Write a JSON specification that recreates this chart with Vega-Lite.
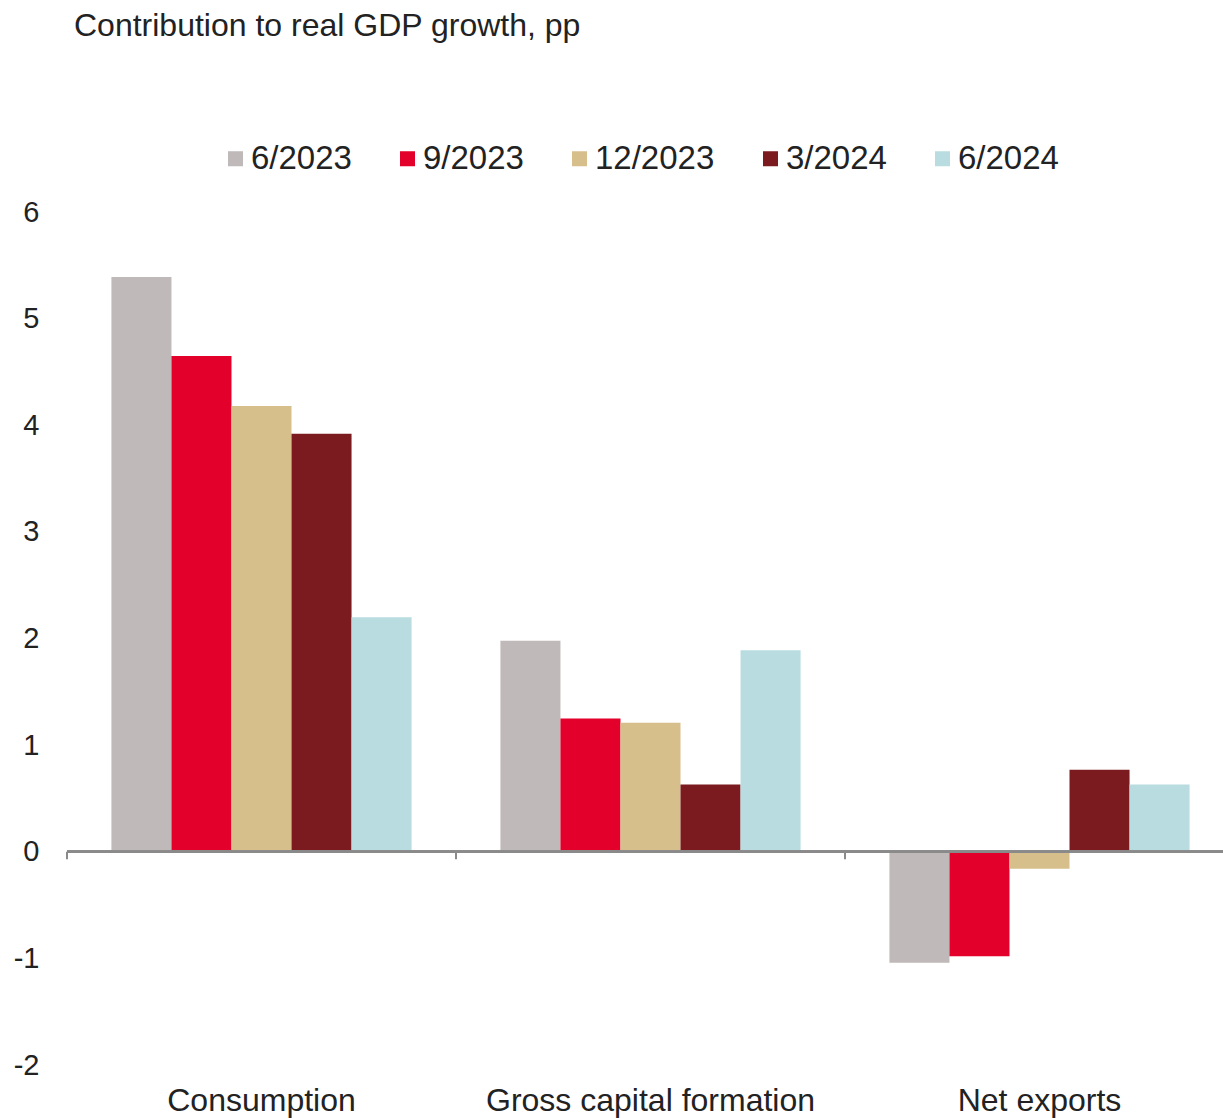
{
  "$schema": "https://vega.github.io/schema/vega-lite/v6.json",
  "width": 1167,
  "height": 853,
  "autosize": {"type": "none"},
  "padding": {"left": 67, "top": 212, "right": 0, "bottom": 53},
  "background": "white",
  "title": {
    "text": "Contribution to real GDP growth, pp",
    "anchor": "start",
    "frame": "group",
    "fontSize": 32,
    "fontWeight": "normal",
    "font": "Liberation Sans",
    "color": "#222222",
    "dx": 7,
    "offset": 99
  },
  "config": {
    "view": {"stroke": null},
    "font": "Liberation Sans"
  },
  "data": {
    "values": [
      {"category": "Consumption", "period": "6/2023", "value": 5.39},
      {"category": "Consumption", "period": "9/2023", "value": 4.65},
      {"category": "Consumption", "period": "12/2023", "value": 4.18},
      {"category": "Consumption", "period": "3/2024", "value": 3.92},
      {"category": "Consumption", "period": "6/2024", "value": 2.2},
      {"category": "Gross capital formation", "period": "6/2023", "value": 1.98},
      {"category": "Gross capital formation", "period": "9/2023", "value": 1.25},
      {"category": "Gross capital formation", "period": "12/2023", "value": 1.21},
      {"category": "Gross capital formation", "period": "3/2024", "value": 0.63},
      {"category": "Gross capital formation", "period": "6/2024", "value": 1.89},
      {"category": "Net exports", "period": "6/2023", "value": -1.04},
      {"category": "Net exports", "period": "9/2023", "value": -0.98},
      {"category": "Net exports", "period": "12/2023", "value": -0.16},
      {"category": "Net exports", "period": "3/2024", "value": 0.77},
      {"category": "Net exports", "period": "6/2024", "value": 0.63}
    ]
  },
  "layer": [
    {
      "mark": {"type": "bar"},
      "encoding": {
        "x": {
          "field": "category",
          "type": "nominal",
          "sort": ["Consumption", "Gross capital formation", "Net exports"],
          "scale": {"paddingInner": 0, "paddingOuter": 0},
          "axis": {
            "title": null,
            "domain": false,
            "ticks": false,
            "labelAngle": 0,
            "labelFontSize": 32,
            "labelPadding": 20,
            "labelLimit": 600,
            "labelColor": "#222222"
          }
        },
        "xOffset": {
          "field": "period",
          "type": "nominal",
          "sort": ["6/2023", "9/2023", "12/2023", "3/2024", "6/2024"],
          "scale": {"paddingInner": 0, "paddingOuter": 0.74}
        },
        "y": {
          "field": "value",
          "type": "quantitative",
          "scale": {"domain": [-2, 6], "nice": false},
          "axis": {
            "title": null,
            "domain": false,
            "ticks": false,
            "grid": false,
            "values": [-2, -1, 0, 1, 2, 3, 4, 5, 6],
            "labelExpr": "datum.value < 0 ? '-' + abs(datum.value) : '' + datum.value",
            "labelFontSize": 29,
            "labelPadding": 28,
            "labelColor": "#222222"
          }
        },
        "color": {
          "field": "period",
          "type": "nominal",
          "sort": ["6/2023", "9/2023", "12/2023", "3/2024", "6/2024"],
          "scale": {
            "domain": ["6/2023", "9/2023", "12/2023", "3/2024", "6/2024"],
            "range": ["#BFB9B9", "#E3002B", "#D7BF8C", "#7B1A1F", "#B8DCE0"]
          },
          "legend": {
            "title": null,
            "orient": "none",
            "legendX": 152,
            "legendY": -70,
            "direction": "horizontal",
            "symbolType": "square",
            "symbolSize": 225,
            "symbolStrokeWidth": 0,
            "labelFontSize": 33,
            "labelOffset": -1,
            "columnPadding": 39,
            "labelColor": "#222222"
          }
        }
      }
    },
    {
      "mark": {"type": "rule", "color": "#8a8a8a", "strokeWidth": 2},
      "encoding": {"y": {"datum": 0}}
    },
    {
      "transform": [{"filter": "datum.period === '6/2023'"}],
      "mark": {"type": "rule", "color": "#8a8a8a", "strokeWidth": 2},
      "encoding": {
        "x": {"field": "category", "type": "nominal", "bandPosition": 0},
        "y": {"datum": 0},
        "y2": {"datum": -0.07}
      }
    }
  ]
}
